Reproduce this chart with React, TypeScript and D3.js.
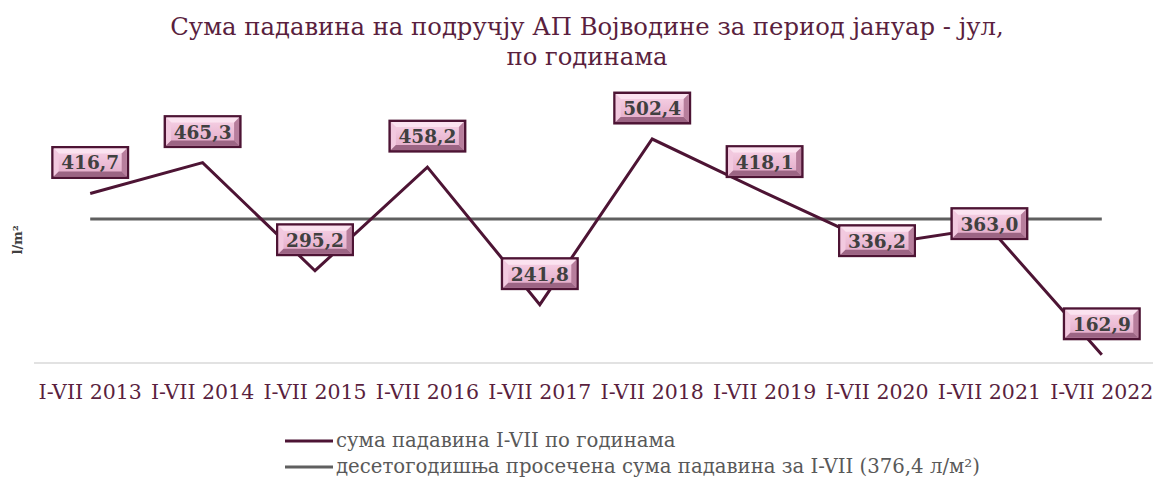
import React from "react";
import * as d3 from "d3";

const categories = ["I-VII 2013","I-VII 2014","I-VII 2015","I-VII 2016","I-VII 2017","I-VII 2018","I-VII 2019","I-VII 2020","I-VII 2021","I-VII 2022"];
const values = [416.7, 465.3, 295.2, 458.2, 241.8, 502.4, 418.1, 336.2, 363.0, 162.9];
const average = 376.4;
const labelPlacement = ["above","above","above","above","above","above","above","center","center","above"];
const titleLines = ["Сума падавина на подручју АП Војводине за период јануар - јул,", "по годинама"];
const legendLabels = ["сума падавина I-VII по годинама", "десетогодишња просечена сума падавина за I-VII (376,4 л/м²)"];
const yTitle = "l/m²";

const W = 1153, H = 487;
const FONT = "'DejaVu Serif', 'Liberation Serif', serif";
const LINE = "#4d1434";
const AVG = "#5f5f5f";
const TXT = "#5a1f3e";

function Box({ cx, cy, text }: { cx: number; cy: number; text: string }) {
  const w = 78, h = 33, b = 5;
  const x0 = cx - w / 2, y0 = cy - h / 2, x1 = cx + w / 2, y1 = cy + h / 2;
  const o = 2.5;
  const ix0 = x0 + o, iy0 = y0 + o, ix1 = x1 - o, iy1 = y1 - o;
  return (
    <g>
      <rect x={x0} y={y0} width={w} height={h} fill={LINE} />
      <rect x={ix0} y={iy0} width={ix1 - ix0} height={iy1 - iy0} fill="url(#boxgrad)" />
      <polygon points={`${ix0},${iy0} ${ix1},${iy0} ${ix1 - b},${iy0 + b} ${ix0 + b},${iy0 + b}`} fill="#fbe3f0" />
      <polygon points={`${ix0},${iy0} ${ix0 + b},${iy0 + b} ${ix0 + b},${iy1 - b} ${ix0},${iy1}`} fill="#f2c9df" />
      <polygon points={`${ix1},${iy0} ${ix1},${iy1} ${ix1 - b},${iy1 - b} ${ix1 - b},${iy0 + b}`} fill="#b77e9c" />
      <polygon points={`${ix0},${iy1} ${ix1},${iy1} ${ix1 - b},${iy1 - b} ${ix0 + b},${iy1 - b}`} fill="#9c6584" />
      <text x={cx} y={cy + 7} textAnchor="middle" fontFamily={FONT} fontWeight="bold" fontSize={18.5} fill="#404040">{text}</text>
    </g>
  );
}

export default function App() {
  const x = d3.scaleBand<string>().domain(categories).range([34, 1158]);
  const y = d3.scaleLinear().domain([150, 600]).range([363, 77]);
  const cx = (c: string) => (x(c) as number) + x.bandwidth() / 2;
  const line = d3.line<number>().x((_, i) => cx(categories[i])).y((v) => y(v));
  const fmt = (v: number) => v.toFixed(1).replace(".", ",");

  return (
    <svg width={W} height={H} style={{ position: "absolute", left: 0, top: 0, background: "#fff" }}>
      <defs>
        <linearGradient id="boxgrad" x1="0" y1="0" x2="0" y2="1">
          <stop offset="0" stopColor="#f7d3e6" />
          <stop offset="1" stopColor="#e2a9c7" />
        </linearGradient>
      </defs>
      {titleLines.map((t, i) => (
        <text key={i} x={587} y={35 + i * 30} textAnchor="middle" fontFamily={FONT} fontSize={24.3} fill={TXT}>{t}</text>
      ))}
      <text transform={`translate(22,240) rotate(-90)`} textAnchor="middle" fontFamily={FONT} fontWeight="bold" fontSize={13} fill="#404040">{yTitle}</text>
      <line x1={34} x2={1158} y1={y(150)} y2={y(150)} stroke="#d9d9d9" strokeWidth={1.5} />
      {categories.map((c) => (
        <text key={c} x={cx(c)} y={399} textAnchor="middle" fontFamily={FONT} fontSize={20.5} fill={TXT}>{c}</text>
      ))}
      <line x1={cx(categories[0])} x2={cx(categories[categories.length - 1])} y1={y(average)} y2={y(average)} stroke={AVG} strokeWidth={3} />
      <path d={line(values) || ""} fill="none" stroke={LINE} strokeWidth={3} strokeLinejoin="miter" />
      {values.map((v, i) => {
        const px = cx(categories[i]);
        const py = y(v);
        const ly = labelPlacement[i] === "above" ? py - 31 : py - 4;
        return <Box key={i} cx={px} cy={ly} text={fmt(v)} />;
      })}
      {legendLabels.map((t, i) => (
        <g key={i}>
          <line x1={285} x2={333} y1={441 + i * 26} y2={441 + i * 26} stroke={i === 0 ? LINE : AVG} strokeWidth={3} />
          <text x={336} y={447 + i * 26} fontFamily={FONT} fontSize={19.7} fill="#595959">{t}</text>
        </g>
      ))}
    </svg>
  );
}
